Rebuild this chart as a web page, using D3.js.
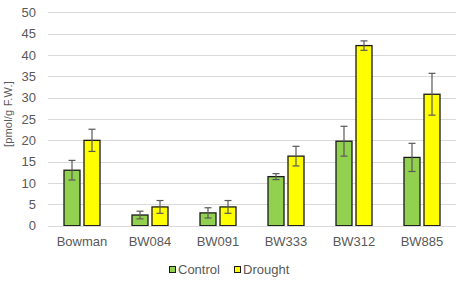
<!DOCTYPE html>
<html><head><meta charset="utf-8">
<script src="https://cdn.jsdelivr.net/npm/d3@7"></script>
<style>body{margin:0;background:#fff}svg{display:block}text{font-family:"Liberation Sans",Arial,sans-serif}</style>
</head><body><svg id="c" width="459" height="281"></svg>
<script>
const categories = ["Bowman","BW084","BW091","BW333","BW312","BW885"];
const seriesNames = ["Control","Drought"];
const controlValues = [13.0, 2.5, 3.0, 11.5, 19.8, 16.0];
const controlErrors = [2.3, 0.9, 1.2, 0.7, 3.5, 3.3];
const droughtValues = [20.0, 4.4, 4.4, 16.3, 42.2, 30.8];
const droughtErrors = [2.6, 1.5, 1.5, 2.3, 1.1, 4.9];
const yTicks = [0,5,10,15,20,25,30,35,40,45,50];
const colors = ["#92D050","#FFFF00"];

const svg = d3.select("#c");
const L = 48, R = 456, T = 12.3, B = 225.7;
const x = d3.scaleBand().domain(categories).range([L,R]).paddingInner(0).paddingOuter(0);
const x1 = d3.scaleBand().domain(seriesNames).range([16, 52]).paddingInner(0.2);
const y = d3.scaleLinear().domain([0,50]).range([B,T]);

// gridlines
svg.append("g").selectAll("line").data(yTicks).join("line")
  .attr("x1",L).attr("x2",R).attr("y1",d=>Math.round(y(d))+0.5).attr("y2",d=>Math.round(y(d))+0.5)
  .attr("stroke","#d9d9d9").attr("stroke-width",1);

// y axis labels
const yAxis = d3.axisLeft(y).tickValues(yTicks).tickSize(0).tickPadding(0);
const ga = svg.append("g").attr("transform",`translate(36,0)`).call(yAxis);
ga.select(".domain").remove();
ga.selectAll("text").attr("fill","#595959").style("font-size","13px").style("font-family","'Liberation Sans',Arial,sans-serif");

// y title
svg.append("text").attr("transform","translate(12,114) rotate(-90)").attr("text-anchor","middle")
  .attr("fill","#595959").style("font-size","11px").style("letter-spacing","0.2px").text("[pmol/g F.W.]");

const data = [
  {name:"Control", vals:controlValues, errs:controlErrors, color:colors[0]},
  {name:"Drought", vals:droughtValues, errs:droughtErrors, color:colors[1]}
];

data.forEach(s=>{
  const g = svg.append("g");
  g.selectAll("rect").data(categories).join("rect")
    .attr("x",(c)=>x(c)+x1(s.name))
    .attr("width",x1.bandwidth())
    .attr("y",(c,i)=>y(s.vals[i]))
    .attr("height",(c,i)=>y(0)-y(s.vals[i]))
    .attr("fill",s.color).attr("stroke","#1a1a1a").attr("stroke-width",1.3);
  const eg = svg.append("g").attr("stroke","#595959").attr("stroke-width",1.2);
  categories.forEach((c,i)=>{
    const cx = x(c)+x1(s.name)+x1.bandwidth()/2;
    const y1 = y(s.vals[i]+s.errs[i]), y2 = y(s.vals[i]-s.errs[i]);
    eg.append("line").attr("x1",cx).attr("x2",cx).attr("y1",y1).attr("y2",y2);
    eg.append("line").attr("x1",cx-3.5).attr("x2",cx+3.5).attr("y1",y1).attr("y2",y1);
    eg.append("line").attr("x1",cx-3.5).attr("x2",cx+3.5).attr("y1",y2).attr("y2",y2);
  });
});

// baseline
svg.append("line").attr("x1",L).attr("x2",R).attr("y1",Math.round(y(0))+0.5).attr("y2",Math.round(y(0))+0.5)
  .attr("stroke","#d9d9d9");

// x labels
svg.append("g").selectAll("text").data(categories).join("text")
  .attr("x",c=>x(c)+x.bandwidth()/2).attr("y",246).attr("text-anchor","middle")
  .attr("fill","#595959").style("font-size","13px").text(c=>c);

// legend
const legX = [169, 234];
seriesNames.forEach((n,i)=>{
  svg.append("rect").attr("x",legX[i]+0.5).attr("y",266.5).attr("width",6).attr("height",6)
    .attr("fill",colors[i]).attr("stroke","#1a1a1a").attr("stroke-width",1);
  svg.append("text").attr("x",legX[i]+9).attr("y",273.5).attr("fill","#595959")
    .style("font-size","13px").text(n);
});
</script></body></html>
